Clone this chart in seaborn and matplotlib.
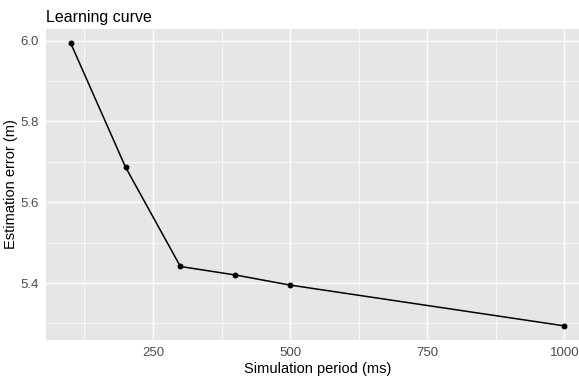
import matplotlib
matplotlib.use("Agg")
import matplotlib.pyplot as plt
import seaborn as sns
import pandas as pd
from matplotlib.ticker import MultipleLocator

period_ms = [100, 200, 300, 400, 500, 1000]
error_m = [5.994, 5.687, 5.441, 5.420, 5.395, 5.294]
x_ticks = [250, 500, 750, 1000]
y_ticks = [5.4, 5.6, 5.8, 6.0]

df = pd.DataFrame({"period": period_ms, "error": error_m})

sns.set_theme(style="darkgrid")
plt.rcParams["font.family"] = ["Liberation Sans", "DejaVu Sans"]

fig = plt.figure(figsize=(5.79, 3.80), dpi=100)
ax = fig.add_axes([46 / 579, 1 - 340 / 380, 543 / 579, 311 / 380])
ax.set_facecolor("#E6E6E6")

sns.lineplot(data=df, x="period", y="error", ax=ax, color="black", linewidth=1.1,
             marker="o", markersize=3.5, markeredgecolor="black", zorder=3)

ax.set_xlim(55, 1045)
ax.set_ylim(5.259, 6.029)
ax.set_xticks(x_ticks)
ax.set_xticklabels([str(v) for v in x_ticks])
ax.set_yticks(y_ticks)
ax.set_yticklabels([f"{v:.1f}" for v in y_ticks])
ax.xaxis.set_minor_locator(MultipleLocator(125))
ax.yaxis.set_minor_locator(MultipleLocator(0.1))
ax.grid(which="major", color="white", linewidth=1.0)
ax.grid(which="minor", color="white", linewidth=0.5)
ax.set_axisbelow(True)
for s in ax.spines.values():
    s.set_visible(False)
ax.tick_params(axis="both", which="major", length=3, width=0.8, color="#333333",
               labelsize=9.5, labelcolor="#4D4D4D", pad=2)
ax.tick_params(axis="both", which="minor", length=0)

ax.set_xlabel("Simulation period (ms)", fontsize=10.5, color="black", labelpad=2)
ax.set_ylabel("Estimation error (m)", fontsize=10.5, color="black", labelpad=2)
ax.set_title("Learning curve", fontsize=11.5, loc="left", color="black", pad=5)

fig.savefig("out.png", dpi=100)
